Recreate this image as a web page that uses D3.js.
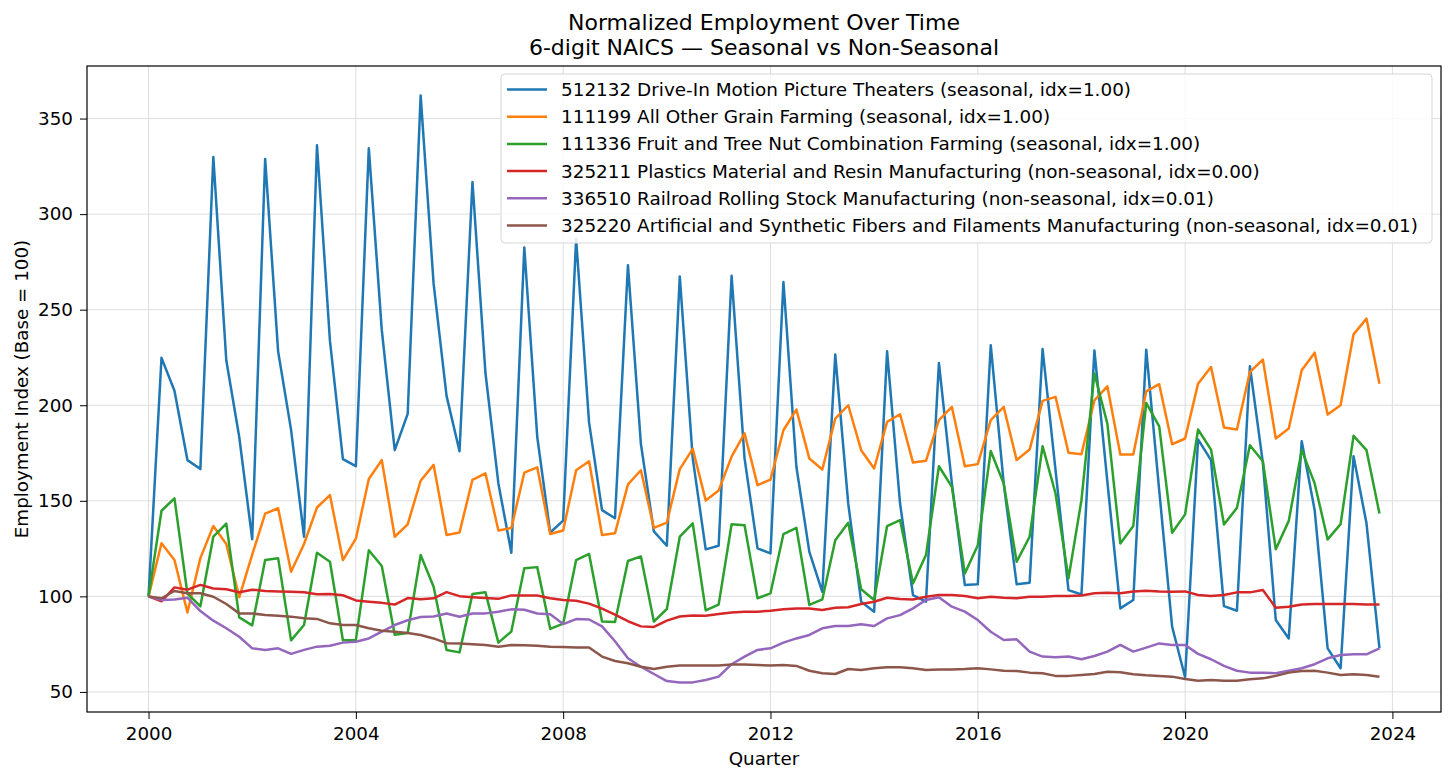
<!DOCTYPE html>
<html>
<head>
<meta charset="utf-8">
<script src="https://cdn.jsdelivr.net/npm/d3@7"></script>
<style>
  body { margin: 0; background: #ffffff; }
  text { font-family: "DejaVu Sans", sans-serif; fill: #000; }
</style>
</head>
<body>
<div class="chart"></div>
<script>
// Quarterly index values, 2000 Q1 .. 2023 Q4 (base quarter = 100)
var startYear = 2000;
var xTicks = [2000, 2004, 2008, 2012, 2016, 2020, 2024];
var yTicks = [50, 100, 150, 200, 250, 300, 350];

var driveIn = [100, 224.8, 207.6, 171.3, 166.6, 329.9, 223.5, 183.4, 129.9, 328.9, 228.2, 187.1,
  131.2, 336.0, 233.8, 171.8, 168.1, 334.5, 239.4, 176.5, 195.5, 362.1, 263.6, 204.9,
  175.9, 316.8, 217.0, 159.1, 122.8, 282.6, 183.4, 133.4, 139.6, 287.0, 190.9, 145.1,
  140.9, 273.3, 179.7, 134.0, 126.5, 267.4, 172.2, 124.6, 126.5, 267.7, 172.2, 125.1,
  122.5, 264.5, 167.8, 123.3, 102.4, 226.5, 148.6, 97.2, 92.0, 228.2, 148.6, 100.7,
  97.2, 222.1, 159.1, 105.9, 106.3, 231.4, 159.1, 106.3, 107.1, 229.4, 166.0, 103.3,
  101.0, 228.7, 160.0, 93.7, 98.1, 229.1, 155.6, 84.1, 57.7, 182.1, 171.3, 94.9,
  92.5, 220.4, 170.0, 87.6, 78.0, 181.2, 145.1, 72.8, 62.4, 173.3, 138.2, 72.8];

var grainFarming = [100, 127.8, 119.0, 91.6, 120.0, 136.8, 127.4, 99.5, 121.8, 143.3, 146.1, 112.9,
  127.4, 146.5, 153.0, 119.0, 130.2, 161.4, 171.3, 131.2, 137.7, 160.5, 168.8, 132.1,
  133.4, 161.0, 164.4, 134.5, 135.8, 164.7, 167.5, 132.6, 134.5, 166.0, 170.7, 132.1,
  133.0, 158.6, 166.0, 135.8, 138.6, 166.6, 177.2, 150.2, 155.4, 173.1, 185.3, 158.2,
  161.1, 186.9, 197.7, 172.1, 166.4, 193.0, 200.0, 176.5, 166.9, 191.3, 195.3, 170.0,
  170.9, 192.2, 199.1, 168.1, 169.2, 192.2, 199.1, 171.3, 176.8, 202.3, 204.4, 175.1,
  174.4, 202.6, 209.9, 174.2, 174.2, 207.3, 211.0, 179.6, 182.6, 211.3, 220.0, 188.3,
  187.3, 217.4, 223.9, 182.6, 187.8, 218.3, 227.5, 195.1, 200.0, 237.1, 245.3, 211.3];

var fruitNut = [100, 144.8, 151.3, 101.5, 94.8, 131.2, 138.1, 89.0, 84.8, 119.0, 120.0, 77.0,
  85.0, 122.8, 118.1, 77.0, 77.2, 124.1, 115.9, 79.9, 80.8, 121.6, 105.0, 71.9,
  70.7, 101.2, 102.2, 75.8, 81.6, 114.7, 115.3, 83.0, 85.7, 119.0, 122.2, 86.8,
  86.6, 118.5, 120.9, 86.8, 93.4, 131.2, 138.2, 92.7, 95.7, 137.7, 137.2, 99.0,
  101.6, 132.6, 135.9, 95.5, 98.4, 129.4, 138.5, 103.7, 98.1, 136.8, 139.9, 106.8,
  121.6, 168.1, 157.3, 112.0, 126.8, 176.1, 159.1, 118.1, 131.2, 178.6, 153.8, 109.4,
  150.3, 216.6, 190.4, 127.7, 136.8, 201.2, 189.0, 133.3, 142.9, 187.3, 176.8, 137.6,
  146.3, 179.1, 170.7, 124.6, 139.5, 176.5, 159.1, 129.8, 137.8, 184.0, 176.5, 143.4];

var plastics = [100, 97.4, 104.7, 103.5, 106.0, 104.1, 103.7, 102.2, 103.5, 102.8, 102.6, 102.4,
  102.1, 101.1, 101.3, 100.6, 97.9, 97.2, 96.6, 95.7, 99.1, 98.5, 99.0, 102.2,
  100.1, 99.6, 99.2, 98.7, 100.5, 100.4, 100.5, 99.0, 98.1, 97.7, 96.2, 93.6,
  90.4, 87.0, 84.3, 84.0, 87.3, 89.5, 90.0, 89.9, 90.8, 91.6, 92.0, 92.0,
  92.5, 93.2, 93.7, 93.6, 92.9, 94.1, 94.3, 96.0, 97.2, 99.3, 98.6, 98.4,
  99.8, 100.7, 100.7, 100.2, 99.0, 99.8, 99.3, 99.0, 99.8, 99.8, 100.2, 100.2,
  100.5, 101.6, 101.9, 101.6, 102.6, 103.0, 102.6, 102.4, 102.6, 100.7, 100.2, 100.7,
  102.1, 102.1, 103.3, 94.1, 94.6, 95.8, 96.0, 96.0, 96.0, 96.0, 95.8, 95.8];

var railroad = [100, 98.1, 98.4, 99.3, 92.3, 87.3, 83.3, 78.9, 72.8, 72.0, 72.8, 69.9,
  72.0, 73.7, 74.2, 75.8, 76.3, 78.0, 81.5, 85.0, 87.5, 89.2, 89.5, 91.0,
  89.3, 91.0, 91.1, 92.0, 93.2, 93.0, 91.0, 90.6, 85.5, 88.1, 87.9, 84.3,
  76.5, 67.6, 63.2, 59.4, 55.7, 54.9, 55.0, 56.2, 58.0, 64.5, 68.5, 72.0,
  72.8, 75.8, 78.0, 79.8, 83.3, 84.5, 84.5, 85.4, 84.5, 88.5, 90.2, 93.7,
  98.1, 99.5, 94.6, 92.0, 87.6, 81.5, 77.2, 77.5, 71.1, 68.5, 68.1, 68.5,
  67.1, 68.8, 71.1, 74.6, 71.1, 73.2, 75.4, 74.6, 74.6, 69.9, 67.1, 63.6,
  61.1, 60.1, 60.1, 59.8, 61.1, 62.4, 64.5, 67.6, 69.3, 69.7, 69.7, 72.8];

var fibers = [100, 99.0, 102.8, 101.6, 101.6, 99.8, 96.0, 91.1, 91.1, 90.2, 89.9, 89.4,
  88.5, 88.2, 85.9, 85.0, 85.0, 83.3, 82.0, 81.5, 80.8, 79.8, 78.0, 75.5,
  75.4, 74.9, 74.5, 73.7, 74.5, 74.4, 74.2, 73.7, 73.5, 73.3, 73.2, 68.5,
  66.2, 65.0, 63.2, 62.0, 63.2, 63.8, 63.8, 63.8, 63.8, 64.4, 64.3, 64.1,
  63.8, 64.1, 63.6, 61.1, 59.8, 59.4, 62.0, 61.5, 62.4, 62.9, 62.9, 62.4,
  61.5, 61.8, 61.8, 62.0, 62.4, 61.8, 61.1, 61.0, 60.1, 59.8, 58.4, 58.4,
  58.9, 59.4, 60.6, 60.3, 59.2, 58.7, 58.4, 58.0, 56.8, 55.9, 56.3, 55.8,
  55.8, 56.6, 57.1, 58.4, 60.1, 61.0, 61.1, 60.1, 58.9, 59.2, 58.9, 58.0];

var seriesLabels = [
  "512132 Drive-In Motion Picture Theaters (seasonal, idx=1.00)",
  "111199 All Other Grain Farming (seasonal, idx=1.00)",
  "111336 Fruit and Tree Nut Combination Farming (seasonal, idx=1.00)",
  "325211 Plastics Material and Resin Manufacturing (non-seasonal, idx=0.00)",
  "336510 Railroad Rolling Stock Manufacturing (non-seasonal, idx=0.01)",
  "325220 Artificial and Synthetic Fibers and Filaments Manufacturing (non-seasonal, idx=0.01)"
];
var seriesColors = ["#1f77b4", "#ff7f0e", "#2ca02c", "#d62728", "#9467bd", "#8c564b"];

var allSeries = [driveIn, grainFarming, fruitNut, plastics, railroad, fibers];

var svgWidth = 1456;
var svgHeight = 782;

var margin = {
  top: 66,
  right: 15,
  bottom: 70,
  left: 87
};

var width = svgWidth - margin.left - margin.right;
var height = svgHeight - margin.top - margin.bottom;

var svg = d3.select(".chart")
  .append("svg")
  .attr("width", svgWidth)
  .attr("height", svgHeight);

var chartGroup = svg.append("g")
  .attr("transform", `translate(${margin.left}, ${margin.top})`);

// Build data: one array of {t, v} per series
var data = allSeries.map(function(values, k) {
  return {
    label: seriesLabels[k],
    color: seriesColors[k],
    points: values.map(function(v, i) { return { t: startYear + i / 4, v: v }; })
  };
});

// Scales (matplotlib style 5% padding round the data)
var tMin = startYear, tMax = startYear + (driveIn.length - 1) / 4;
var tPad = (tMax - tMin) * 0.05;
var xScale = d3.scaleLinear()
  .domain([tMin - tPad, tMax + tPad])
  .range([0, width]);

var yScale = d3.scaleLinear()
  .domain([39.5, 377.5])
  .range([height, 0]);

// Grid
chartGroup.append("g")
  .selectAll("line")
  .data(xTicks)
  .enter()
  .append("line")
  .attr("x1", d => xScale(d))
  .attr("x2", d => xScale(d))
  .attr("y1", 0)
  .attr("y2", height)
  .attr("stroke", "#dedede")
  .attr("stroke-width", 1);

chartGroup.append("g")
  .selectAll("line")
  .data(yTicks)
  .enter()
  .append("line")
  .attr("x1", 0)
  .attr("x2", width)
  .attr("y1", d => yScale(d))
  .attr("y2", d => yScale(d))
  .attr("stroke", "#dedede")
  .attr("stroke-width", 1);

// Lines
var line = d3.line()
  .x(d => xScale(d.t))
  .y(d => yScale(d.v));

chartGroup.selectAll(".series")
  .data(data)
  .enter()
  .append("path")
  .attr("class", "series")
  .attr("d", d => line(d.points))
  .attr("fill", "none")
  .attr("stroke", d => d.color)
  .attr("stroke-width", 2.5)
  .attr("stroke-linejoin", "round");

// Axes
var bottomAxis = d3.axisBottom(xScale).tickValues(xTicks).tickFormat(d3.format("d"))
  .tickSizeOuter(0).tickSize(7).tickPadding(8);
var leftAxis = d3.axisLeft(yScale).tickValues(yTicks)
  .tickSizeOuter(0).tickSize(7).tickPadding(7);

var xAxisG = chartGroup.append("g")
  .attr("transform", `translate(0, ${height})`)
  .call(bottomAxis);

var yAxisG = chartGroup.append("g")
  .call(leftAxis);

[xAxisG, yAxisG].forEach(function(g) {
  g.select(".domain").remove();
  g.selectAll(".tick line").attr("stroke", "#000").attr("stroke-width", 1);
  g.selectAll(".tick text")
    .attr("font-family", "DejaVu Sans")
    .attr("font-size", "18.3px")
    .attr("fill", "#000");
});

// Frame round the plot
chartGroup.append("rect")
  .attr("x", 0)
  .attr("y", 0)
  .attr("width", width)
  .attr("height", height)
  .attr("fill", "none")
  .attr("stroke", "#000")
  .attr("stroke-width", 1.2);

// Legend
var legend = chartGroup.append("g")
  .attr("transform", "translate(414, 8)");

legend.append("rect")
  .attr("x", 0)
  .attr("y", 0)
  .attr("width", 931)
  .attr("height", 169)
  .attr("rx", 4)
  .attr("fill", "#fff")
  .attr("fill-opacity", 0.85)
  .attr("stroke", "#d6d6d6");

var rows = legend.selectAll(".legendRow")
  .data(data)
  .enter()
  .append("g")
  .attr("class", "legendRow")
  .attr("transform", (d, i) => `translate(0, ${15.5 + i * 27.2})`);

rows.append("line")
  .attr("x1", 6)
  .attr("x2", 46)
  .attr("stroke", d => d.color)
  .attr("stroke-width", 2.5);

rows.append("text")
  .attr("x", 60)
  .attr("dy", "0.35em")
  .attr("font-size", "18.4px")
  .text(d => d.label);

// Titles and axis labels
svg.append("text")
  .attr("x", margin.left + width / 2)
  .attr("y", 30)
  .attr("text-anchor", "middle")
  .attr("font-size", "22px")
  .text("Normalized Employment Over Time");

svg.append("text")
  .attr("x", margin.left + width / 2)
  .attr("y", 55)
  .attr("text-anchor", "middle")
  .attr("font-size", "22px")
  .text("6-digit NAICS \u2014 Seasonal vs Non-Seasonal");

svg.append("text")
  .attr("x", margin.left + width / 2)
  .attr("y", 765)
  .attr("text-anchor", "middle")
  .attr("font-size", "18.3px")
  .text("Quarter");

svg.append("text")
  .attr("transform", `translate(28, ${margin.top + height / 2}) rotate(-90)`)
  .attr("text-anchor", "middle")
  .attr("font-size", "18.3px")
  .text("Employment Index (Base = 100)");
</script>
</body>
</html>
